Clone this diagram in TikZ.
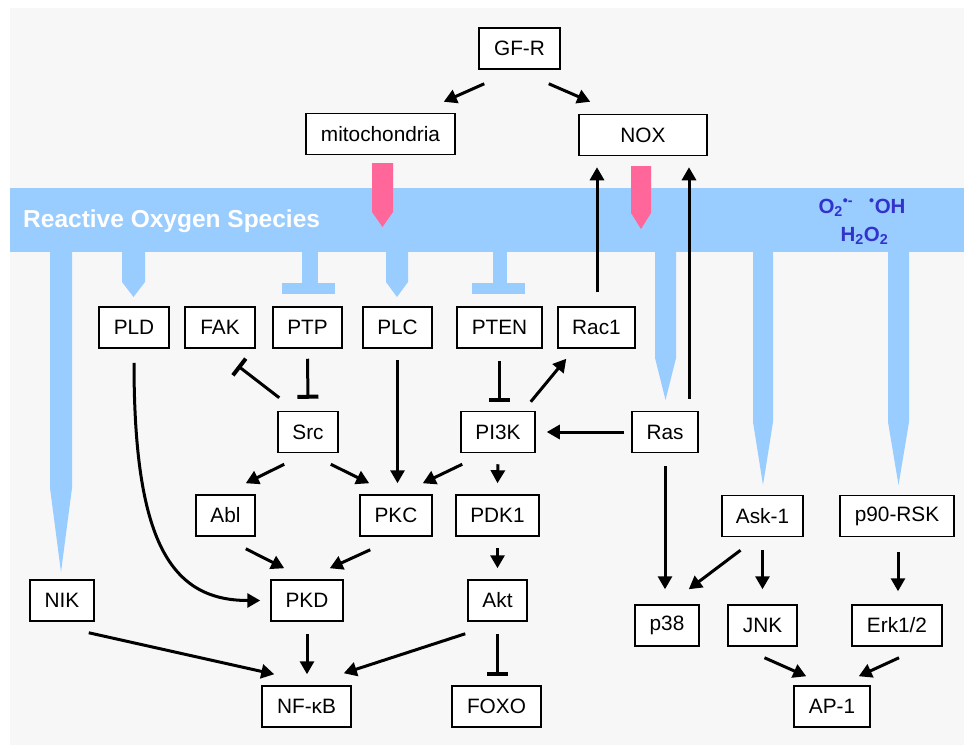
\documentclass[tikz,border=0pt]{standalone}
\usepackage{fontspec}
\setmainfont{Liberation Sans}
\usetikzlibrary{
    arrows.meta,      % For Triangle and Bar tips
    calc              % For offsets from node anchors
}
\definecolor{rosblue}{HTML}{99CCFF}
\definecolor{rospink}{HTML}{FF6699}
\definecolor{speciesblue}{HTML}{3333CC}
\definecolor{panelgray}{HTML}{F7F7F7}

\begin{document}
\begin{tikzpicture}[
    % Global settings: one unit is one pixel, y grows downwards
    x=1pt, y=-1pt,
    % Style for the boxed protein names
    box_style/.style={
        draw, fill=white, line width=1.5pt,
        minimum height=41pt, inner sep=0pt,
        font=\fontsize{20.8}{24}\selectfont
    },
    % Style for activating arrows
    arrow_tip/.style={
        line width=3pt,
        -{Triangle[length=13pt, width=14pt]}
    },
    % Style for inhibiting lines (flat bar end)
    inhibit_tip/.style={
        line width=3pt,
        -{Bar[width=21pt, line width=4pt]}
    },
    % Styles for the ROS band and the ROS sources
    ros_fill/.style={fill=rosblue},
    pink_fill/.style={fill=rospink},
    species_style/.style={
        anchor=base, inner sep=0pt, text=speciesblue,
        font=\fontsize{20.5}{22}\selectfont\bfseries
    }
]
    \useasboundingbox (0,0) rectangle (964,745);
    \fill[white] (0,0) rectangle (964,745);
    \fill[panelgray] (10,8) rectangle (964,745);

    % 1. The ROS band with its drops and bars.
    \fill[ros_fill] (10,188) rectangle (964,252);
    \fill[ros_fill] (50,250) -- (72,250) -- (72,488) -- (61,572) -- (50,488) -- cycle;
    \fill[ros_fill] (122,250) -- (145,250) -- (145,282) -- (133.5,297) -- (122,282) -- cycle;
    \fill[ros_fill] (386,250) -- (408,250) -- (408,282) -- (397,297) -- (386,282) -- cycle;
    \fill[ros_fill] (655,250) -- (676,250) -- (676,358) -- (665.5,400) -- (655,358) -- cycle;
    \fill[ros_fill] (753,250) -- (773,250) -- (773,422) -- (763,485) -- (753,422) -- cycle;
    \fill[ros_fill] (888,250) -- (909,250) -- (909,422) -- (898.5,485) -- (888,422) -- cycle;
    \fill[ros_fill] (302,250) rectangle (318,285);
    \fill[ros_fill] (282,283) rectangle (335,294);
    \fill[ros_fill] (493,250) rectangle (507,285);
    \fill[ros_fill] (472,283) rectangle (525,294);

    \node[anchor=base west, inner sep=0pt, text=white,
        font=\fontsize{24.5}{28}\selectfont\bfseries] (ros_label) at (23,227) {Reactive Oxygen Species};
    \node[species_style] (species_top) at (862,213)
        {O\textsubscript{2}\textsuperscript{•-}\hspace{16pt}\textsuperscript{•}OH};
    \node[species_style] (species_bottom) at (864.5,241)
        {H\textsubscript{2}O\textsubscript{2}};

    % 2. ROS sources (pink arrows into the band).
    \fill[pink_fill] (372,163) -- (393,163) -- (393,212) -- (382.5,227) -- (372,212) -- cycle;
    \fill[pink_fill] (631,166) -- (651,166) -- (651,213) -- (641,229) -- (631,213) -- cycle;

    % 3. The boxes.
    \node[box_style, minimum width=81pt] (gfr) at (519.5,48.5) {GF-R};
    \node[box_style, minimum width=149pt] (mito) at (380.5,134) {mitochondria};
    \node[box_style, minimum width=128pt] (nox) at (643,135) {NOX};

    \node[box_style, minimum width=70pt] (pld) at (134,327.5) {PLD};
    \node[box_style, minimum width=70pt] (fak) at (220,327.5) {FAK};
    \node[box_style, minimum width=69pt] (ptp) at (307.5,327.5) {PTP};
    \node[box_style, minimum width=69pt] (plc) at (397.5,327.5) {PLC};
    \node[box_style, minimum width=85pt] (pten) at (499.5,327.5) {PTEN};
    \node[box_style, minimum width=77pt] (rac1) at (596.5,327.5) {Rac1};

    \node[box_style, minimum width=60pt] (src) at (308,432) {Src};
    \node[box_style, minimum width=74pt] (pi3k) at (498,432) {PI3K};
    \node[box_style, minimum width=66pt] (ras) at (665,432) {Ras};

    \node[box_style, minimum width=59pt] (abl) at (225.5,515.5) {Abl};
    \node[box_style, minimum width=72pt] (pkc) at (396,515.5) {PKC};
    \node[box_style, minimum width=83pt] (pdk1) at (497.5,515.5) {PDK1};
    \node[box_style, minimum width=81pt] (ask1) at (762.5,516) {Ask-1};
    \node[box_style, minimum width=114pt] (p90rsk) at (897,516) {p90-RSK};

    \node[box_style, minimum width=64pt] (nik) at (62,600.5) {NIK};
    \node[box_style, minimum width=72pt] (pkd) at (307,600.5) {PKD};
    \node[box_style, minimum width=59pt] (akt) at (497.5,600.5) {Akt};
    \node[box_style, minimum width=64pt] (p38) at (667,625.5) {p38};
    \node[box_style, minimum width=69pt] (jnk) at (762.5,625.5) {JNK};
    \node[box_style, minimum width=90pt] (erk) at (897,625.5) {Erk1/2};

    \node[box_style, minimum width=89pt] (nfkb) at (306.5,706.5) {NF-κB};
    \node[box_style, minimum width=89pt] (foxo) at (496.5,706.5) {FOXO};
    \node[box_style, minimum width=76pt] (ap1) at (832,706.5) {AP-1};

    % 4. Arrows and inhibitions.
    \draw[arrow_tip] ($(gfr.south west)+(6,14)$) -- ($(mito.north east)+(-12,-11)$);
    \draw[arrow_tip] ($(gfr.south east)+(-12,14)$) -- ($(nox.north west)+(12,-12)$);
    \draw[arrow_tip] ($(rac1.north)+(0.5,-14)$) -- ($(rac1.north |- nox.south)+(0.5,11)$);
    \draw[arrow_tip] ($(ras.north)+(24,-12)$) -- ($(ras.north |- nox.south)+(24,11)$);

    \draw[arrow_tip] ($(pld.south)+(0,14)$)
        .. controls ($(pld.south |- pkd.west)+(0,-60)$) and ($(pld.south |- pkd.west)+(36,0)$)
        .. ($(pkd.west)+(-10,0)$);
    \draw[inhibit_tip] ($(src.north west)+(2,-13)$) -- ($(fak.south east)+(-18,17)$);
    \draw[inhibit_tip] ($(ptp.south)+(0,10)$) -- ($(src.north)+(0,-12)$);
    \draw[arrow_tip] ($(plc.south)+(0,11)$) -- ($(plc.south |- pkc.north)+(0,-11)$);
    \draw[inhibit_tip] ($(pten.south)+(0,12)$) -- ($(pten.south |- pi3k.north)+(0,-9)$);
    \draw[arrow_tip] ($(pi3k.north east)+(-5,-9)$) -- ($(rac1.south west)+(9,10)$);
    \draw[arrow_tip] ($(ras.west)+(-7,0)$) -- ($(pi3k.east)+(11,0)$);

    \draw[arrow_tip] ($(src.south west)+(7,11)$) -- ($(abl.north east)+(-10,-11)$);
    \draw[arrow_tip] ($(src.south east)+(-8,11)$) -- ($(pkc.north west)+(10,-11)$);
    \draw[arrow_tip] ($(pi3k.south west)+(2,11)$) -- ($(pkc.north east)+(-10,-11)$);
    \draw[arrow_tip] ($(pi3k.south)+(0,11)$) -- ($(pdk1.north)+(0,-11)$);

    \draw[arrow_tip] ($(abl.south east)+(-10,12)$) -- ($(pkd.north west)+(14,-11)$);
    \draw[arrow_tip] ($(pkc.south west)+(11,13)$) -- ($(pkd.north east)+(-14,-11)$);
    \draw[arrow_tip] ($(pdk1.south)+(0,11)$) -- ($(akt.north)+(0,-11)$);

    \draw[arrow_tip] ($(nik.south east)+(-6,11)$) -- ($(nfkb.north west)+(13,-11)$);
    \draw[arrow_tip] ($(pkd.south)+(0,12)$) -- ($(pkd.south |- nfkb.north)+(0,-11)$);
    \draw[arrow_tip] ($(akt.south west)+(-2,12)$) -- ($(nfkb.north east)+(-8,-12)$);
    \draw[inhibit_tip] ($(akt.south)+(0,12)$) -- ($(akt.south |- foxo.north)+(0,-9)$);

    \draw[arrow_tip] ($(ras.south)+(0,13)$) -- ($(ras.south |- p38.north)+(0,-15)$);
    \draw[arrow_tip] ($(ask1.south)+(-22,13)$) -- ($(p38.north east)+(-11,-15)$);
    \draw[arrow_tip] ($(ask1.south)+(0,13)$) -- ($(jnk.north)+(0,-15)$);
    \draw[arrow_tip] ($(p90rsk.south)+(1,15)$) -- ($(erk.north)+(1,-13)$);
    \draw[arrow_tip] ($(jnk.south)+(2,11)$) -- ($(ap1.north west)+(13,-9)$);
    \draw[arrow_tip] ($(erk.south)+(2,11)$) -- ($(ap1.north east)+(-12,-9)$);

\end{tikzpicture}
\end{document}
